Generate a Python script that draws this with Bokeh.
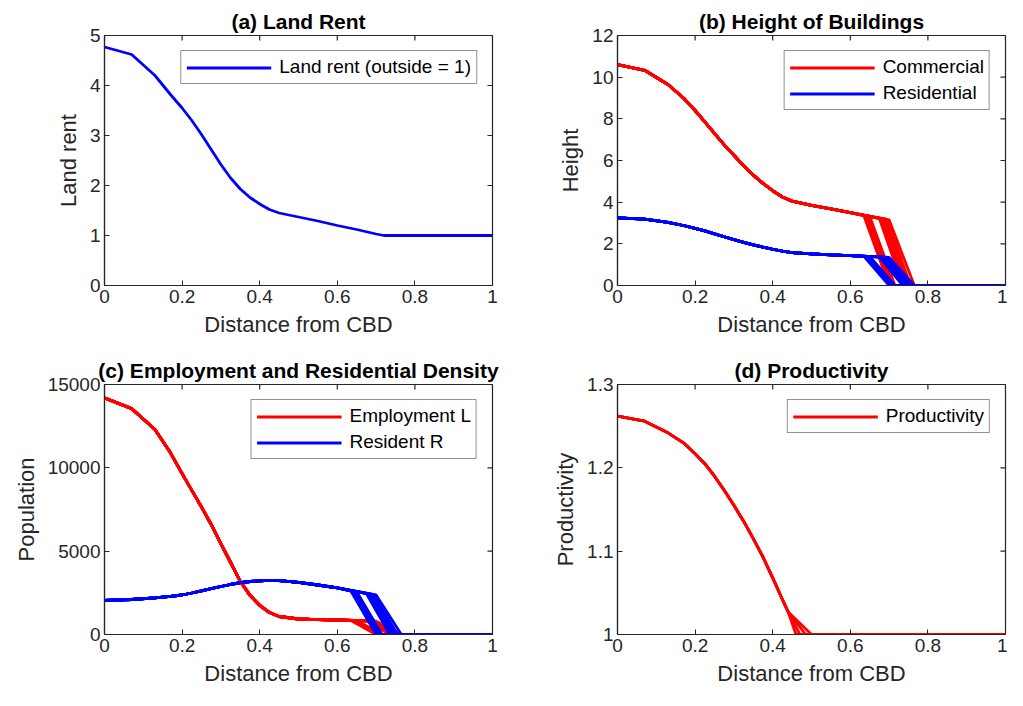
import math
from bokeh.plotting import figure
from bokeh.models import FixedTicker, Range1d
from bokeh.layouts import column, row
from bokeh.embed import file_html
from bokeh.resources import INLINE

# ---------------- data ----------------
x_ticks = [0, 0.2, 0.4, 0.6, 0.8, 1]
x_tick_labels = ["0", "0.2", "0.4", "0.6", "0.8", "1"]

# (a) land rent
rent_x = [0, 0.07, 0.13, 0.17, 0.2, 0.225, 0.25, 0.275, 0.3, 0.325, 0.35, 0.375,
          0.4, 0.425, 0.45, 0.5, 0.55, 0.6, 0.65, 0.7, 0.72, 1.0]
rent_y = [4.77, 4.62, 4.2, 3.82, 3.55, 3.3, 3.02, 2.72, 2.42, 2.15, 1.93, 1.76,
          1.63, 1.52, 1.45, 1.37, 1.29, 1.2, 1.12, 1.03, 1.0, 1.0]

# common interior grid for (b) and (c)
dist = [0, 0.07, 0.13, 0.17, 0.2, 0.225, 0.25, 0.275, 0.3, 0.325, 0.35, 0.375,
        0.4, 0.425, 0.45, 0.5, 0.55, 0.6]
# city edge of each simulated run: last built point and first empty point
edge_start = [0.635, 0.64, 0.645, 0.65, 0.675, 0.68, 0.685, 0.69, 0.695, 0.70]
edge_end = [0.70, 0.705, 0.71, 0.715, 0.735, 0.74, 0.745, 0.75, 0.755, 0.765]

# (b) height of buildings
height_com = [10.6, 10.33, 9.65, 9.0, 8.4, 7.85, 7.3, 6.75, 6.25, 5.75, 5.3, 4.9,
              4.55, 4.25, 4.05, 3.85, 3.68, 3.5]
height_com_edge = [3.35, 3.34, 3.33, 3.32, 3.22, 3.2, 3.19, 3.18, 3.17, 3.15]
height_res = [3.25, 3.19, 3.03, 2.88, 2.74, 2.62, 2.48, 2.34, 2.2, 2.07, 1.95, 1.84,
              1.74, 1.65, 1.58, 1.52, 1.47, 1.43]
height_res_edge = [1.40, 1.40, 1.39, 1.39, 1.37, 1.37, 1.36, 1.36, 1.35, 1.35]

# (c) employment and residential density
emp_L = [14200, 13550, 12300, 10900, 9650, 8650, 7650, 6600, 5450, 4320, 3190, 2350,
         1750, 1320, 1080, 930, 890, 870]
emp_L_edge = [840, 840, 835, 835, 820, 815, 810, 810, 805, 800]
res_R = [2050, 2100, 2200, 2290, 2370, 2490, 2620, 2750, 2880, 3000, 3110, 3180,
         3220, 3245, 3235, 3130, 2970, 2800]
res_R_edge = [2600, 2590, 2570, 2560, 2460, 2440, 2420, 2400, 2380, 2370]

# (d) productivity
prod_x = [0, 0.07, 0.13, 0.17, 0.2, 0.225, 0.25, 0.275, 0.3, 0.325, 0.35, 0.375,
          0.4, 0.425, 0.44]
prod_y = [1.262, 1.256, 1.242, 1.23, 1.217, 1.205, 1.19, 1.173, 1.155, 1.136, 1.115,
          1.093, 1.068, 1.042, 1.027]
prod_edge_x = [0.46, 0.47, 0.485, 0.5]

FONT = "Liberation Sans"
AX = "#262626"
RED = "#FF0000"
BLUE = "#0000FF"
LW = 2.8
FW, FH = 388, 250


def runs(base_x, base_y, starts, ends, plateau):
    xs, ys = [], []
    for s, e, v in zip(starts, ends, plateau):
        xs.append(list(base_x) + [s, e, 1.0])
        ys.append(list(base_y) + [v, 0.0, 0.0])
    return xs, ys


def make_fig(title, ylabel, yrange, yticks, ylabels, left, right, top, bottom):
    p = figure(frame_width=FW, frame_height=FH,
               x_range=Range1d(0, 1), y_range=Range1d(*yrange),
               output_backend="svg", toolbar_location=None,
               min_border_left=left, min_border_right=right,
               min_border_top=top, min_border_bottom=bottom,
               background_fill_color="white", border_fill_color="white")
    p.outline_line_color = AX
    p.outline_line_width = 1.2
    p.xgrid.visible = False
    p.ygrid.visible = False
    p.title.text = title
    p.title.align = "center"
    p.title.text_font = FONT
    p.title.text_font_size = "21px"
    p.title.text_font_style = "bold"
    p.title.text_color = "black"
    p.title.standoff = 6

    for ax, ticks, labels, lab in ((p.xaxis[0], x_ticks, x_tick_labels, "Distance from CBD"),
                                   (p.yaxis[0], yticks, ylabels, ylabel)):
        ax.ticker = FixedTicker(ticks=ticks)
        ax.major_label_overrides = {t: l for t, l in zip(ticks, labels)}
        ax.axis_label = lab
        ax.axis_label_text_font = FONT
        ax.axis_label_text_font_size = "22px"
        ax.axis_label_text_font_style = "normal"
        ax.axis_label_text_color = AX
        ax.major_label_text_font = FONT
        ax.major_label_text_font_size = "19px"
        ax.major_label_text_color = AX
        ax.major_tick_in = 5
        ax.major_tick_out = 0
        ax.minor_tick_in = 0
        ax.minor_tick_out = 0
        ax.axis_line_color = AX
        ax.major_tick_line_color = AX
        ax.axis_line_width = 1.2
        ax.major_label_standoff = 4
        ax.axis_label_standoff = 6

    # inward ticks on the top and right edges of the box
    ymax = yrange[1]
    p.ray(x=x_ticks, y=[ymax] * len(x_ticks), length=5, length_units="screen",
          angle=-math.pi / 2, line_color=AX, line_width=1.2)
    p.ray(x=[1.0] * len(yticks), y=yticks, length=5, length_units="screen",
          angle=math.pi, line_color=AX, line_width=1.2)
    return p


def style_legend(p):
    leg = p.legend[0]
    leg.location = "top_right"
    leg.margin = 15
    leg.padding = 5
    leg.spacing = 4
    leg.glyph_width = 85
    leg.glyph_height = 21
    leg.label_standoff = 8
    leg.label_text_font = FONT
    leg.label_text_font_size = "19px"
    leg.label_text_color = "black"
    leg.border_line_color = AX
    leg.border_line_width = 1
    leg.background_fill_color = "white"
    leg.background_fill_alpha = 1


# (a)
pa = make_fig("(a) Land Rent", "Land rent", (0, 5), [0, 1, 2, 3, 4, 5],
              ["0", "1", "2", "3", "4", "5"], 104, 22, 35, 68)
pa.line(rent_x, rent_y, color=BLUE, line_width=LW, legend_label="Land rent (outside = 1)")
style_legend(pa)

# (b)
pb = make_fig("(b) Height of Buildings", "Height", (0, 12), [0, 2, 4, 6, 8, 10, 12],
              ["0", "2", "4", "6", "8", "10", "12"], 103, 2, 35, 68)
cx, cy = runs(dist, height_com, edge_start, edge_end, height_com_edge)
rx, ry = runs(dist, height_res, edge_start, edge_end, height_res_edge)
pb.multi_line(cx, cy, color=RED, line_width=LW, legend_label="Commercial")
pb.multi_line(rx, ry, color=BLUE, line_width=LW, legend_label="Residential")
style_legend(pb)

# (c)
pc = make_fig("(c) Employment and Residential Density", "Population", (0, 15000),
              [0, 5000, 10000, 15000], ["0", "5000", "10000", "15000"], 104, 22, 30, 57)
ex, ey = runs(dist, emp_L, edge_start, edge_end, emp_L_edge)
qx, qy = runs(dist, res_R, edge_start, edge_end, res_R_edge)
pc.multi_line(ex, ey, color=RED, line_width=LW, legend_label="Employment L")
pc.multi_line(qx, qy, color=BLUE, line_width=LW, legend_label="Resident R")
style_legend(pc)

# (d)
pd_ = make_fig("(d) Productivity", "Productivity", (1, 1.3), [1, 1.1, 1.2, 1.3],
               ["1", "1.1", "1.2", "1.3"], 103, 2, 30, 57)
dxs = [list(prod_x) + [xe, 1.0] for xe in prod_edge_x]
dys = [list(prod_y) + [1.0, 1.0] for _ in prod_edge_x]
pd_.multi_line(dxs, dys, color=RED, line_width=LW, legend_label="Productivity")
style_legend(pd_)

layout = column(row(pa, pb), row(pc, pd_))
with open("out.html", "w") as f:
    f.write(file_html(layout, INLINE))
